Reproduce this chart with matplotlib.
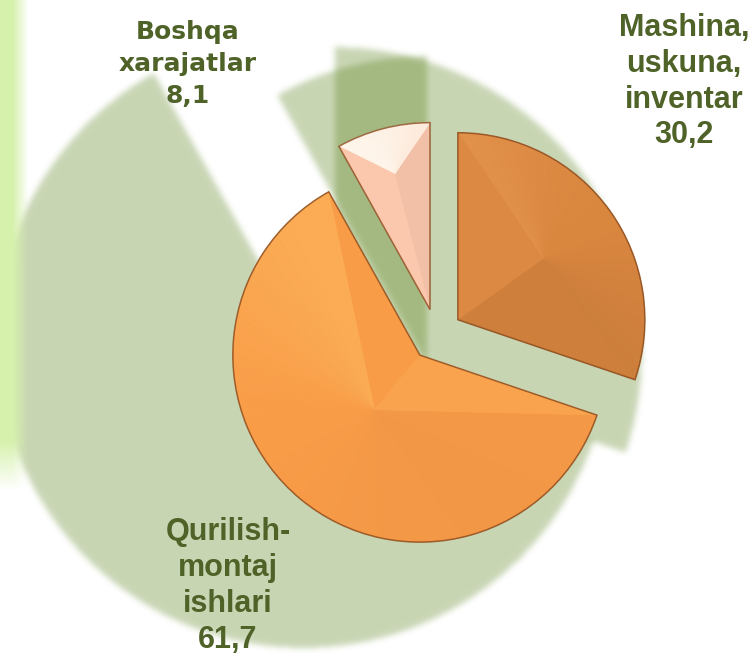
import numpy as np
import matplotlib
matplotlib.use("Agg")
import matplotlib.pyplot as plt
import matplotlib.patches as mpatches
from matplotlib.path import Path
from matplotlib.collections import PolyCollection
from matplotlib.colors import to_rgb

plt.rcParams["font.family"] = ["Liberation Sans", "DejaVu Sans"]

# data
labels = ["Mashina,\nuskuna,\ninventar", "Qurilish-\nmontaj\nishlari", "Boshqa\nxarajatlar"]
values = [30.2, 61.7, 8.1]
colors = ["#d9863f", "#f99c48", "#fbc8ad"]
highlights = ["#f5a862", "#ffd374", "#fffbf2"]
label_pos = [(0.906, 0.875), (0.302, 0.104), (0.248, 0.902)]
label_font = [("Liberation Sans", 22, 1.25), ("Liberation Sans", 22, 1.25), ("DejaVu Sans", 18, 1.4)]

W, H = 755, 654
R_PX = 187.0          # pie radius in pixels
CX, CY = 436.6, 335.0  # pie centre in pixels (from top-left)

fig = plt.figure(figsize=(W / 100, H / 100), dpi=100)
ax = fig.add_axes([0, 0, 1, 1])

wedges, _ = ax.pie(values, explode=[0.14] * 3, startangle=90, counterclock=False,
                   colors=colors, radius=1, wedgeprops=dict(linewidth=0, zorder=3))

xl = (-CX / R_PX, (W - CX) / R_PX)
yl = ((CY - H) / R_PX, CY / R_PX)
ax.set_xlim(*xl)
ax.set_ylim(*yl)
ax.set_aspect("equal", adjustable="datalim")
ax.axis("off")


def wedge_poly(w, n=120):
    t = np.radians(np.linspace(w.theta1, w.theta2, n))
    c = np.array(w.center)
    arc = np.column_stack([c[0] + w.r * np.cos(t), c[1] + w.r * np.sin(t)])
    return np.vstack([c, arc])


def blur(img, sigma):
    k = np.arange(-3 * sigma, 3 * sigma + 1)
    k = np.exp(-k ** 2 / (2 * sigma ** 2))
    k /= k.sum()
    img = np.apply_along_axis(lambda r: np.convolve(r, k, mode="same"), 1, img)
    img = np.apply_along_axis(lambda c: np.convolve(c, k, mode="same"), 0, img)
    return img


# perspective-like shadow of every slice, blurred
gx = xl[0] + (np.arange(W) + 0.5) / W * (xl[1] - xl[0])
gy = yl[1] - (np.arange(H) + 0.5) / H * (yl[1] - yl[0])
GX, GY = np.meshgrid(gx, gy)
pts = np.column_stack([GX.ravel(), GY.ravel()])
keep = np.ones((H, W))
for w in wedges:
    poly = wedge_poly(w)
    anchor = np.array([poly[:, 0].max() + 5 / R_PX,
                       (poly[:, 1].min() + poly[:, 1].max()) / 2 - 10 / R_PX])
    sh = anchor + 1.64 * (poly - anchor)
    m = Path(sh).contains_points(pts).reshape(H, W).astype(float)
    keep *= 1 - 0.33 * blur(m, 3.0)
shadow = np.zeros((H, W, 4))
shadow[..., :3] = np.array([90, 129, 27]) / 255
shadow[..., 3] = 1 - keep
ax.imshow(shadow, extent=(xl[0], xl[1], yl[0], yl[1]), origin="upper", zorder=1,
          interpolation="bilinear")

# light green strip on the left edge
bw = 40
px = np.arange(bw)
py = np.arange(H)
ax_x = np.clip((28 - px) / 16, 0, 1)
ax_y = np.clip((490 - py) / 50, 0, 1)
band = np.zeros((H, bw, 4))
band[..., :3] = np.array([214, 241, 172]) / 255
band[..., 3] = ax_y[:, None] * ax_x[None, :]
ax.imshow(band, extent=(xl[0], xl[0] + bw / R_PX, yl[0], yl[1]), origin="upper",
          zorder=2, interpolation="bilinear")

# bevel facets on each slice
light = np.array([np.cos(np.radians(120)), np.sin(np.radians(120))])
apex_frac = [0.56, 0.38, 0.75]
k_pos = [0.45, 0.3, 0.9]
k_neg = [0.08, 0.03, 0.08]
for w, col, hl, fr, kp, kn in zip(wedges, colors, highlights, apex_frac, k_pos, k_neg):
    poly = wedge_poly(w)
    mid = np.radians((w.theta1 + w.theta2) / 2)
    apex = np.array(w.center) + fr * w.r * np.array([np.cos(mid), np.sin(mid)])
    base = np.array(to_rgb(col))
    hcol = np.array(to_rgb(hl))
    tris, fcs = [], []
    n = len(poly)
    for i in range(n):
        p, q = poly[i], poly[(i + 1) % n]
        d = q - p
        L = np.hypot(*d)
        if L == 0:
            continue
        nrm = np.array([d[1], -d[0]]) / L
        s = nrm @ light
        if s > 0:
            c = base + (hcol - base) * kp * s ** 2
        else:
            c = base * (1 + kn * s)
        tris.append([apex, p, q])
        fcs.append(np.clip(c, 0, 1))
    ax.add_collection(PolyCollection(tris, facecolors=fcs, edgecolors=fcs,
                                     linewidths=0.4, zorder=4))
    ax.add_patch(mpatches.Wedge(w.center, w.r, w.theta1, w.theta2, fill=False,
                                edgecolor="#8a4a1c", lw=1.1, alpha=0.8, zorder=5))

# labels
for lab, v, (lx, ly), (fam, fs, ls) in zip(labels, values, label_pos, label_font):
    txt = lab + "\n" + f"{v:.1f}".replace(".", ",")
    ax.text(lx, ly, txt, transform=ax.transAxes, ha="center", va="center",
            family=[fam, "DejaVu Sans"], fontsize=fs, fontweight="bold",
            color="#4f6228", linespacing=ls, zorder=6)

fig.savefig("out.png", dpi=100)
